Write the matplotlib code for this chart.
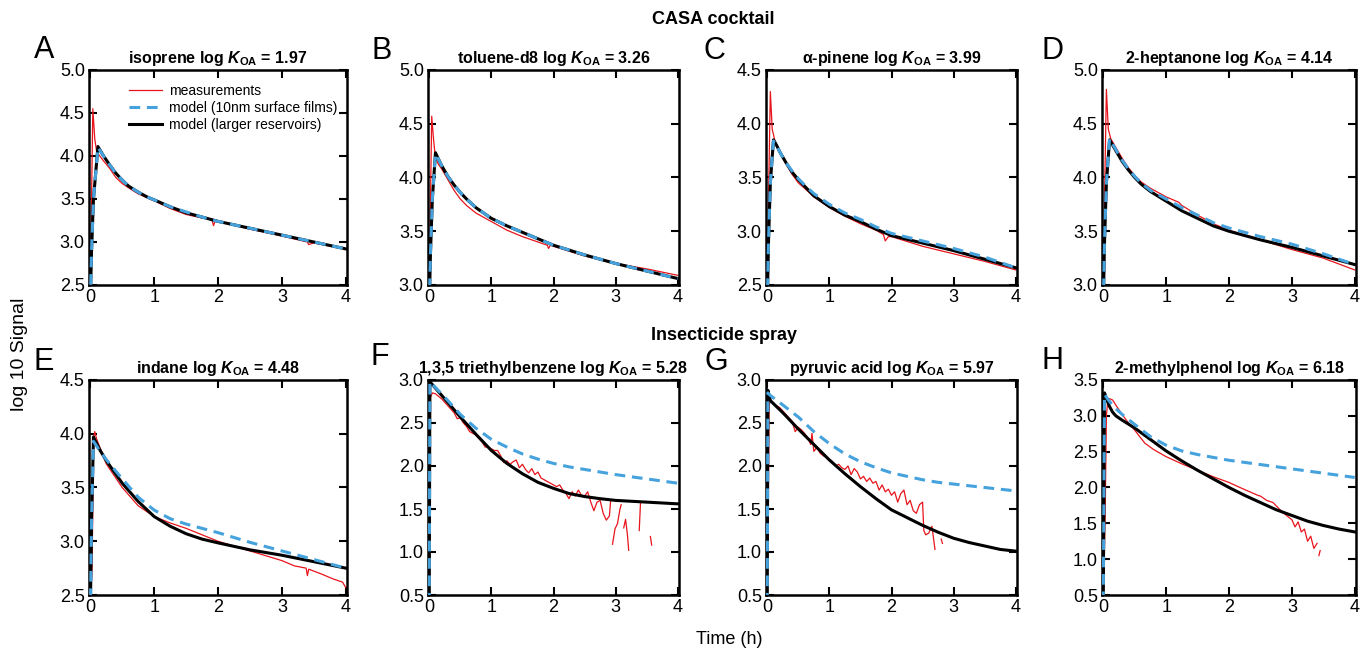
import matplotlib
matplotlib.use('Agg')
import matplotlib.pyplot as plt
import numpy as np

plt.rcParams['font.family'] = ['Liberation Sans', 'DejaVu Sans']
plt.rcParams['mathtext.fontset'] = 'custom'
plt.rcParams['mathtext.rm'] = 'Liberation Sans'
plt.rcParams['mathtext.bf'] = 'Liberation Sans:bold'
plt.rcParams['mathtext.it'] = 'Liberation Sans:italic'
plt.rcParams['mathtext.bfit'] = 'Liberation Sans:italic:bold'

nan = np.nan

# ---- panel labels / compounds ----
letters = ['A', 'B', 'C', 'D', 'E', 'F', 'G', 'H']
compounds = ['isoprene', 'toluene-d8', '\u03b1-pinene', '2-heptanone',
             'indane', '1,3,5 triethylbenzene', 'pyruvic acid', '2-methylphenol']
log_koa = ['1.97', '3.26', '3.99', '4.14', '4.48', '5.28', '5.97', '6.18']
ylims = [(2.5, 5.0), (3.0, 5.0), (2.5, 4.5), (3.0, 5.0),
         (2.5, 4.5), (0.5, 3.0), (0.5, 3.0), (0.5, 3.5)]

# ---- A: isoprene ----
a_mt = [0.0, 0.02, 0.04, 0.07, 0.1, 0.2, 0.3, 0.4, 0.5, 0.6, 0.75, 1.0, 1.25, 1.5, 1.75, 1.9, 1.93, 1.96,
        2.0, 2.5, 3.0, 3.4, 3.42, 3.5, 4.0]
a_my = [2.4, 3.5, 4.55, 4.2, 4.05, 3.95, 3.86, 3.75, 3.68, 3.63, 3.56, 3.48, 3.39, 3.32, 3.28, 3.27, 3.19, 3.26,
        3.24, 3.15, 3.07, 3.0, 2.97, 2.99, 2.92]
a_t = [0.0, 0.02, 0.05, 0.12, 0.2, 0.3, 0.4, 0.5, 0.6, 0.75, 0.9, 1.0, 1.25, 1.5, 1.75, 2.0, 2.5, 3.0, 3.5, 4.0]
a_black = [2.3, 2.9, 3.5, 4.11, 4.01, 3.9, 3.8, 3.72, 3.65, 3.58, 3.52, 3.49, 3.41, 3.34, 3.29, 3.24, 3.16,
           3.08, 3.0, 2.92]
a_blue = [2.3, 2.9, 3.5, 4.1, 4.01, 3.9, 3.8, 3.72, 3.65, 3.58, 3.52, 3.49, 3.41, 3.35, 3.29, 3.24, 3.16,
          3.08, 3.0, 2.92]

# ---- B: toluene-d8 ----
b_mt = [0.0, 0.02, 0.04, 0.07, 0.1, 0.15, 0.2, 0.3, 0.4, 0.5, 0.6, 0.75, 1.0, 1.25, 1.5, 1.75, 1.9, 1.92,
        1.95, 2.0, 2.5, 3.0, 3.5, 4.0]
b_my = [2.9, 3.8, 4.57, 4.35, 4.18, 4.12, 4.08, 3.98, 3.88, 3.8, 3.74, 3.67, 3.59, 3.51, 3.45, 3.4, 3.37, 3.34,
        3.37, 3.36, 3.27, 3.2, 3.15, 3.09]
b_t = [0.0, 0.02, 0.05, 0.1, 0.15, 0.2, 0.3, 0.4, 0.5, 0.6, 0.75, 1.0, 1.25, 1.5, 1.75, 2.0, 2.5, 3.0, 3.5, 4.0]
b_black = [2.8, 3.3, 3.8, 4.23, 4.17, 4.11, 4.01, 3.93, 3.86, 3.8, 3.72, 3.62, 3.55, 3.49, 3.43, 3.37, 3.28,
           3.2, 3.13, 3.06]
b_blue = [2.8, 3.3, 3.8, 4.22, 4.17, 4.11, 4.01, 3.93, 3.86, 3.8, 3.72, 3.62, 3.55, 3.49, 3.43, 3.37, 3.28,
          3.2, 3.13, 3.06]

# ---- C: alpha-pinene ----
c_mt = [0.0, 0.02, 0.05, 0.08, 0.12, 0.2, 0.3, 0.4, 0.5, 0.6, 0.75, 1.0, 1.25, 1.5, 1.75, 1.87, 1.9, 1.95,
        2.0, 2.5, 3.0, 3.5, 4.0]
c_my = [2.4, 3.3, 4.3, 3.95, 3.85, 3.74, 3.63, 3.53, 3.45, 3.4, 3.32, 3.22, 3.14, 3.07, 3.01, 2.97, 2.91, 2.95,
        2.95, 2.86, 2.79, 2.72, 2.64]
c_t = [0.0, 0.02, 0.05, 0.1, 0.15, 0.2, 0.3, 0.4, 0.5, 0.6, 0.75, 1.0, 1.25, 1.5, 1.75, 2.0, 2.5, 3.0, 3.5, 4.0]
c_black = [2.3, 2.9, 3.45, 3.85, 3.8, 3.74, 3.64, 3.55, 3.48, 3.42, 3.33, 3.23, 3.15, 3.09, 3.02, 2.96, 2.89,
           2.82, 2.74, 2.66]
c_blue = [2.3, 2.9, 3.45, 3.84, 3.8, 3.74, 3.64, 3.56, 3.49, 3.43, 3.35, 3.25, 3.17, 3.11, 3.04, 2.98, 2.91,
          2.84, 2.76, 2.66]

# ---- D: 2-heptanone ----
d_mt = [0.0, 0.02, 0.05, 0.08, 0.12, 0.2, 0.3, 0.4, 0.5, 0.6, 0.75, 1.0, 1.2, 1.25, 1.5, 1.75, 2.0, 2.5,
        3.0, 3.5, 4.0]
d_my = [2.9, 3.8, 4.82, 4.45, 4.36, 4.28, 4.18, 4.09, 4.02, 3.96, 3.9, 3.82, 3.77, 3.74, 3.65, 3.57, 3.51,
        3.42, 3.33, 3.25, 3.14]
d_t = [0.0, 0.02, 0.05, 0.1, 0.15, 0.2, 0.3, 0.4, 0.5, 0.6, 0.75, 1.0, 1.25, 1.5, 1.75, 2.0, 2.5, 3.0, 3.5, 4.0]
d_black = [2.8, 3.4, 3.95, 4.35, 4.3, 4.25, 4.15, 4.07, 4.0, 3.94, 3.87, 3.78, 3.69, 3.62, 3.55, 3.5, 3.42,
           3.35, 3.27, 3.19]
d_blue = [2.8, 3.4, 3.95, 4.36, 4.31, 4.26, 4.16, 4.08, 4.01, 3.95, 3.88, 3.8, 3.72, 3.65, 3.58, 3.53, 3.45,
          3.38, 3.29, 3.19]

# ---- E: indane ----
e_mt = [0.0, 0.03, 0.05, 0.07, 0.1, 0.25, 0.5, 0.75, 1.0, 1.25, 1.5, 1.75, 2.0, 2.5, 3.0, 3.2, 3.38, 3.4,
        3.42, 3.6, 3.8, 3.95, 4.0]
e_my = [2.4, 2.8, 3.95, 4.02, 3.95, 3.72, 3.5, 3.33, 3.23, 3.17, 3.12, 3.06, 3.0, 2.91, 2.82, 2.77, 2.75,
        2.68, 2.74, 2.7, 2.65, 2.62, 2.57]
e_t = [0.0, 0.02, 0.05, 0.15, 0.25, 0.5, 0.75, 1.0, 1.25, 1.5, 1.75, 2.0, 2.5, 3.0, 3.5, 4.0]
e_black = [2.3, 3.2, 3.97, 3.85, 3.75, 3.54, 3.37, 3.23, 3.14, 3.07, 3.02, 2.985, 2.92, 2.87, 2.81, 2.75]
e_blue = [2.3, 3.2, 3.93, 3.84, 3.76, 3.58, 3.41, 3.29, 3.21, 3.16, 3.12, 3.08, 2.99, 2.91, 2.83, 2.75]

# ---- F: 1,3,5 triethylbenzene ----
f_mt = [0.01, 0.02, 0.05, 0.1, 0.2, 0.3, 0.4, 0.45, 0.5, 0.55, 0.6, 0.65, 0.7, 0.75, 0.8, 0.85, 0.9,
        0.95, 1.0, 1.05, 1.1, 1.15, 1.2, 1.25, 1.3, 1.35, 1.4, 1.45, 1.5, 1.55, 1.6, 1.65, 1.7, 1.75,
        1.8, 1.85, 1.9, 1.95, 2.0, 2.05, 2.1, 2.15, 2.2, 2.25, 2.3, 2.35, 2.4, 2.45, 2.5, 2.55, 2.6,
        2.65, 2.7, 2.75, 2.8, 2.85, 2.9, 2.92, 2.93, 2.95, 2.99, 3.03, 3.07, 3.09, 3.1, 3.13, 3.16,
        3.19, 3.21, 3.25, 3.38, 3.4, 3.45, 3.56, 3.58]
f_my = [1.0, 2.8, 2.85, 2.84, 2.78, 2.7, 2.62, 2.55, 2.56, 2.5, 2.46, 2.4, 2.38, 2.36, 2.32, 2.28, 2.22,
        2.22, 2.2, 2.18, 2.18, 2.12, 2.04, 2.06, 2.02, 2.05, 2.07, 1.98, 2.02, 1.96, 1.92, 1.97, 1.9, 1.93,
        1.86, 1.84, 1.82, 1.8, 1.78, 1.76, 1.78, 1.72, 1.68, 1.62, 1.7, 1.65, 1.72, 1.66, 1.65, 1.7, 1.58,
        1.48, 1.58, 1.6, 1.45, 1.37, 1.42, 1.6, nan, 1.09, 1.27, 1.33, 1.5, 1.55, nan, 1.28, 1.38,
        1.2, 1.02, nan, 1.25, 1.57, nan, 1.18, 1.08]
f_t = [0.0, 0.01, 0.25, 0.5, 0.75, 1.0, 1.25, 1.5, 1.75, 2.0, 2.25, 2.5, 2.75, 3.0, 3.5, 4.0]
f_black = [0.4, 2.98, 2.78, 2.57, 2.37, 2.18, 2.03, 1.91, 1.81, 1.74, 1.68, 1.645, 1.62, 1.6, 1.58, 1.56]
f_blue = [0.4, 2.98, 2.8, 2.6, 2.44, 2.31, 2.22, 2.14, 2.08, 2.03, 1.99, 1.96, 1.93, 1.9, 1.85, 1.8]

# ---- G: pyruvic acid ----
g_mt = [0.01, 0.03, 0.05, 0.1, 0.2, 0.3, 0.4, 0.45, 0.5, 0.55, 0.6, 0.65, 0.7, 0.72, 0.75, 0.8, 0.85,
        0.9, 0.95, 1.0, 1.05, 1.1, 1.15, 1.2, 1.25, 1.3, 1.35, 1.4, 1.45, 1.5, 1.55, 1.6, 1.65, 1.7,
        1.75, 1.8, 1.85, 1.9, 1.95, 2.0, 2.05, 2.1, 2.15, 2.2, 2.25, 2.3, 2.35, 2.4, 2.45, 2.5, 2.52,
        2.55, 2.6, 2.65, 2.7, 2.75, 2.8, 2.82]
g_my = [1.0, 2.7, 2.78, 2.72, 2.68, 2.6, 2.52, 2.4, 2.45, 2.42, 2.38, 2.33, 2.25, 2.38, 2.17, 2.22, 2.15,
        2.12, 2.1, 2.08, 2.05, 2.0, 2.02, 1.98, 1.96, 2.0, 1.9, 1.97, 1.93, 1.85, 1.88, 1.82, 1.86, 1.8,
        1.82, 1.72, 1.78, 1.7, 1.73, 1.66, 1.7, 1.58, 1.68, 1.72, 1.55, 1.6, 1.48, 1.45, 1.55, 1.58, 1.25,
        1.2, 1.22, 1.3, 1.03, nan, 1.15, 1.1]
g_t = [0.0, 0.01, 0.05, 0.25, 0.5, 0.75, 1.0, 1.25, 1.5, 1.75, 2.0, 2.25, 2.5, 2.75, 3.0, 3.25, 3.5, 3.75, 4.0]
g_black = [0.4, 2.88, 2.76, 2.62, 2.43, 2.25, 2.07, 1.91, 1.76, 1.62, 1.49, 1.4, 1.31, 1.23, 1.16, 1.11, 1.07,
           1.03, 1.01]
g_blue = [0.4, 2.85, 2.82, 2.71, 2.57, 2.4, 2.26, 2.14, 2.05, 1.98, 1.92, 1.88, 1.84, 1.81, 1.79, 1.77, 1.75,
          1.73, 1.71]

# ---- H: 2-methylphenol ----
h_mt = [0.0, 0.03, 0.05, 0.07, 0.1, 0.15, 0.2, 0.3, 0.4, 0.5, 0.66, 0.8, 1.0, 1.25, 1.5, 1.75, 2.0,
        2.2, 2.46, 2.5, 2.6, 2.7, 2.8, 2.9, 3.0, 3.05, 3.1, 3.15, 3.2, 3.25, 3.3, 3.35, 3.4, 3.42, 3.43, 3.45]
h_my = [0.4, 1.6, 3.0, 3.2, 3.24, 3.22, 3.15, 3.02, 2.9, 2.8, 2.62, 2.53, 2.43, 2.33, 2.24, 2.15, 2.07,
        1.99, 1.89, 1.88, 1.82, 1.79, 1.7, 1.62, 1.55, 1.45, 1.52, 1.38, 1.42, 1.25, 1.32, 1.15, 1.22, nan, 1.05, 1.12]
h_t = [0.0, 0.02, 0.05, 0.1, 0.15, 0.2, 0.3, 0.5, 0.75, 1.0, 1.25, 1.5, 1.75, 2.0, 2.25, 2.5, 2.75, 3.0,
       3.25, 3.5, 3.75, 4.0]
h_black = [0.4, 3.32, 3.24, 3.13, 3.05, 3.0, 2.94, 2.83, 2.67, 2.51, 2.37, 2.24, 2.12, 2.0, 1.89, 1.79, 1.69,
           1.61, 1.53, 1.47, 1.42, 1.38]
h_blue = [0.4, 3.3, 3.26, 3.2, 3.15, 3.1, 3.02, 2.88, 2.71, 2.59, 2.51, 2.46, 2.42, 2.38, 2.35, 2.32, 2.29,
          2.26, 2.23, 2.2, 2.17, 2.14]

meas_t = [a_mt, b_mt, c_mt, d_mt, e_mt, f_mt, g_mt, h_mt]
meas_y = [a_my, b_my, c_my, d_my, e_my, f_my, g_my, h_my]
model_t = [a_t, b_t, c_t, d_t, e_t, f_t, g_t, h_t]
model_black = [a_black, b_black, c_black, d_black, e_black, f_black, g_black, h_black]
model_blue = [a_blue, b_blue, c_blue, d_blue, e_blue, f_blue, g_blue, h_blue]

RED = '#e8141c'
BLUE = '#45a2dc'

fig = plt.figure(figsize=(13.61, 6.54), dpi=100, facecolor='white')
W, H = 1361.0, 654.0

col_left = [89, 428, 766, 1102]
col_width = [258, 251, 251, 254]
row_top = [70, 380]
ax_h = 215

for i in range(8):
    r, c = divmod(i, 4)
    rect = [col_left[c] / W, 1 - (row_top[r] + ax_h) / H, col_width[c] / W, ax_h / H]
    ax = fig.add_axes(rect)
    ax.plot(meas_t[i], meas_y[i], color=RED, lw=0.9, label='measurements', zorder=2)
    ax.plot(model_t[i], model_black[i], color='black', lw=2.2, label='model (larger reservoirs)', zorder=3)
    ax.plot(model_t[i], model_blue[i], color=BLUE, lw=2.2, dashes=(3.5, 2.2),
            label='model (10nm surface films)', zorder=4)

    lo, hi = ylims[i]
    ax.set_xlim(-0.02, 4.02)
    ax.set_ylim(lo, hi)
    ax.set_xticks([0, 1, 2, 3, 4])
    ax.set_yticks(np.arange(lo, hi + 0.01, 0.5))
    ax.yaxis.set_major_formatter(matplotlib.ticker.FormatStrFormatter('%.1f'))
    ax.tick_params(direction='in', length=6, width=1.5, labelsize=13,
                   top=True, right=True, pad=3)
    for sp in ax.spines.values():
        sp.set_linewidth(1.8)

    ax.set_title(compounds[i] + r' log $\mathbfit{K}_{\mathbf{OA}}$ = ' + log_koa[i],
                 fontsize=11.5, fontweight='bold', pad=5)

    if i == 0:
        handles, labels = ax.get_legend_handles_labels()
        order = [0, 2, 1]
        ax.legend([handles[k] for k in order], [labels[k] for k in order],
                  loc='upper right', bbox_to_anchor=(1.0, 0.98), frameon=False,
                  fontsize=10, handlelength=2.4, labelspacing=0.2, borderaxespad=0.3,
                  handletextpad=0.5)

letter_pos = [(44, 50), (382, 51), (714, 51), (1052, 51),
              (44, 362), (380, 357), (716, 362), (1052, 361)]
for L, (x, y) in zip(letters, letter_pos):
    fig.text(x / W, 1 - y / H, L, fontsize=22, ha='center', va='center')

fig.text(713 / W, 1 - 20 / H, 'CASA cocktail', fontsize=13, fontweight='bold', ha='center', va='center')
fig.text(724 / W, 1 - 336 / H, 'Insecticide spray', fontsize=13, fontweight='bold', ha='center', va='center')
fig.text(729 / W, 1 - 640 / H, 'Time (h)', fontsize=13, ha='center', va='center')
fig.text(20 / W, 1 - 354 / H, 'log 10 Signal', fontsize=14, ha='center', va='center', rotation=90)

fig.savefig('out.png', dpi=100, facecolor='white')
